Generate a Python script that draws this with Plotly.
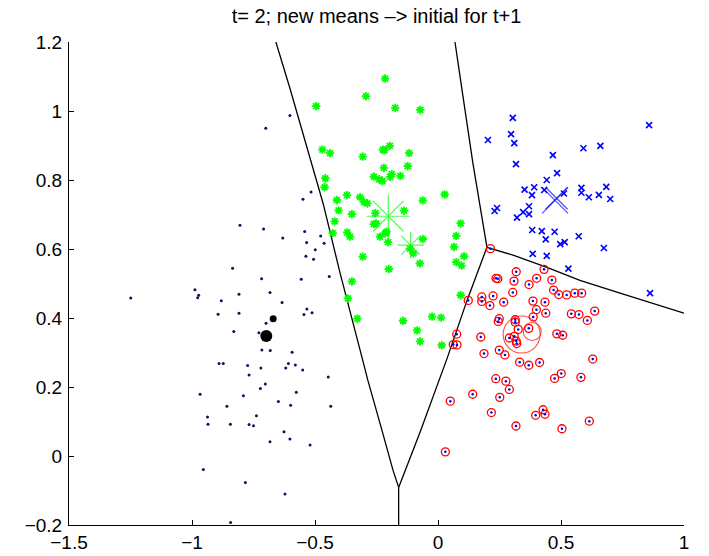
import plotly.graph_objects as go

# ---------------- data ----------------
black_x = [-0.602, -0.700, -0.549, -0.516, -0.805, -0.709, -0.631, -0.542, -0.477, -0.534,
           -0.463, -0.499, -0.537, -0.506, -0.835, -0.717, -0.556, -0.442, -0.988, -1.249,
           -0.977, -0.973, -0.809, -0.683, -0.881, -0.634, -0.533, -0.545, -0.512, -0.894,
           -0.809, -0.699, -0.728, -0.830, -0.716, -0.682, -0.593, -0.890, -0.873, -0.774,
           -0.720, -0.619, -0.608, -0.580, -0.550, -0.768, -0.446, -0.702, -0.722, -0.576,
           -0.967, -0.791, -0.649, -0.599, -0.858, -0.436, -0.937, -0.738, -0.935, -0.844,
           -0.768, -0.750, -0.626, -0.602, -0.683, -0.520, -0.954, -0.783, -0.622, -0.843]
black_y = [0.987, 0.950, 0.744, 0.765, 0.669, 0.658, 0.632, 0.651, 0.638, 0.619,
           0.617, 0.598, 0.579, 0.570, 0.544, 0.514, 0.512, 0.520, 0.482, 0.458,
           0.459, 0.466, 0.469, 0.474, 0.450, 0.445, 0.426, 0.410, 0.415, 0.411,
           0.414, 0.385, 0.357, 0.361, 0.307, 0.306, 0.301, 0.268, 0.268, 0.262,
           0.255, 0.255, 0.268, 0.264, 0.249, 0.235, 0.229, 0.209, 0.196, 0.185,
           0.179, 0.175, 0.158, 0.147, 0.144, 0.144, 0.113, 0.117, 0.092, 0.092,
           0.091, 0.088, 0.070, 0.049, 0.041, 0.032, -0.039, -0.077, -0.110, -0.193]

green_x = [-0.215, -0.293, -0.495, -0.174, -0.072, -0.470, -0.439, -0.224, -0.218, -0.196,
           -0.117, -0.306, -0.220, -0.123, -0.261, -0.239, -0.226, -0.195, -0.188, -0.153,
           -0.458, -0.461, -0.411, -0.370, -0.317, -0.301, -0.287, -0.062, 0.027, -0.404,
           -0.350, -0.255, -0.138, -0.420, -0.261, -0.252, -0.428, -0.369, -0.358, -0.236,
           -0.215, -0.209, -0.203, -0.062, 0.092, 0.074, 0.065, 0.106, 0.074, 0.096,
           -0.114, -0.100, -0.074, -0.306, -0.200, -0.350, -0.366, 0.092, -0.328, -0.142,
           -0.024, 0.013, -0.085, -0.073, 0.015]
green_y = [1.094, 1.043, 1.014, 1.009, 1.003, 0.888, 0.878, 0.888, 0.886, 0.899,
           0.878, 0.868, 0.835, 0.840, 0.810, 0.802, 0.797, 0.809, 0.817, 0.812,
           0.805, 0.779, 0.742, 0.756, 0.750, 0.736, 0.732, 0.741, 0.758, 0.712,
           0.701, 0.704, 0.711, 0.680, 0.672, 0.674, 0.646, 0.648, 0.636, 0.636,
           0.645, 0.650, 0.620, 0.629, 0.674, 0.638, 0.606, 0.579, 0.562, 0.552,
           0.601, 0.587, 0.558, 0.578, 0.542, 0.506, 0.457, 0.466, 0.398, 0.392,
           0.404, 0.401, 0.364, 0.332, 0.321]

blue_x = [0.304, 0.297, 0.203, 0.310, 0.858, 0.591, 0.660, 0.467, 0.317, 0.484,
          0.442, 0.352, 0.391, 0.432, 0.382, 0.512, 0.583, 0.583, 0.684, 0.654,
          0.613, 0.700, 0.240, 0.230, 0.370, 0.346, 0.370, 0.321, 0.383, 0.422,
          0.474, 0.438, 0.497, 0.515, 0.572, 0.674, 0.385, 0.442, 0.530, 0.862]
blue_y = [0.980, 0.933, 0.916, 0.907, 0.959, 0.892, 0.899, 0.872, 0.846, 0.820,
          0.800, 0.772, 0.779, 0.771, 0.756, 0.761, 0.777, 0.763, 0.780, 0.757,
          0.750, 0.745, 0.719, 0.710, 0.724, 0.707, 0.701, 0.691, 0.655, 0.652,
          0.650, 0.628, 0.614, 0.620, 0.637, 0.603, 0.586, 0.580, 0.543, 0.472]

red_x = [0.431, 0.318, 0.236, 0.243, 0.309, 0.401, 0.463, 0.370, 0.224, 0.304,
         0.470, 0.491, 0.523, 0.556, 0.584, 0.178, 0.178, 0.123, 0.267, 0.211,
         0.386, 0.435, 0.400, 0.438, 0.542, 0.573, 0.637, 0.607, 0.387, 0.249,
         0.245, 0.314, 0.314, 0.326, 0.369, 0.483, 0.507, 0.076, 0.174, 0.290,
         0.310, 0.318, 0.320, 0.062, 0.077, 0.249, 0.187, 0.272, 0.332, 0.369,
         0.413, 0.629, 0.235, 0.276, 0.290, 0.501, 0.474, 0.581, 0.141, 0.251,
         0.050, 0.217, 0.427, 0.397, 0.435, 0.615, 0.317, 0.504, 0.030, 0.213]
red_y = [0.541, 0.534, 0.515, 0.514, 0.507, 0.515, 0.510, 0.497, 0.464, 0.474,
         0.481, 0.468, 0.467, 0.472, 0.472, 0.461, 0.448, 0.451, 0.446, 0.436,
         0.449, 0.446, 0.424, 0.414, 0.412, 0.410, 0.420, 0.393, 0.403, 0.398,
         0.390, 0.395, 0.388, 0.367, 0.370, 0.354, 0.350, 0.353, 0.345, 0.342,
         0.347, 0.333, 0.326, 0.323, 0.322, 0.307, 0.297, 0.293, 0.272, 0.263,
         0.271, 0.281, 0.224, 0.217, 0.193, 0.239, 0.225, 0.228, 0.179, 0.170,
         0.159, 0.126, 0.134, 0.118, 0.121, 0.101, 0.087, 0.079, 0.012, 0.601]

# cluster means: [old, new]
black_mean_x = [-0.698, -0.670]
black_mean_y = [0.348, 0.398]
green_mean_x = [-0.202, -0.111]
green_mean_y = [0.695, 0.611]
blue_mean_x = [0.476, 0.482]
blue_mean_y = [0.741, 0.747]
red_mean_x = [0.340, 0.383]
red_mean_y = [0.352, 0.361]

# decision boundaries
bnd_a_x = [-0.659, -0.602, -0.467, -0.398, -0.309, -0.285, -0.228, -0.183, -0.160]
bnd_a_y = [1.200, 1.066, 0.732, 0.530, 0.286, 0.219, 0.075, -0.041, -0.091]
bnd_b_x = [-0.160, -0.073, 0.037, 0.118, 0.199]
bnd_b_y = [-0.091, 0.069, 0.283, 0.451, 0.605]
bnd_c_x = [0.199, 0.179, 0.142, 0.102, 0.069]
bnd_c_y = [0.605, 0.692, 0.848, 1.040, 1.200]
bnd_d_x = [0.199, 0.305, 0.443, 0.577, 0.740, 0.931, 1.000]
bnd_d_y = [0.605, 0.582, 0.547, 0.509, 0.472, 0.428, 0.414]
bnd_e_x = [-0.160, -0.160]
bnd_e_y = [-0.091, -0.200]

x_ticks = [-1.5, -1, -0.5, 0, 0.5, 1]
y_ticks = [-0.2, 0, 0.2, 0.4, 0.6, 0.8, 1.0, 1.2]
title_text = "t= 2; new means –> initial for t+1"

FONT = "Liberation Sans, Arial, Helvetica, sans-serif"

# ---------------- figure ----------------
fig = go.Figure()

for bx, by in [(bnd_a_x, bnd_a_y), (bnd_b_x, bnd_b_y), (bnd_c_x, bnd_c_y),
               (bnd_d_x, bnd_d_y), (bnd_e_x, bnd_e_y)]:
    fig.add_trace(go.Scatter(x=bx, y=by, mode="lines",
                             line=dict(color="black", width=1.3), hoverinfo="skip"))

fig.add_trace(go.Scatter(x=black_x, y=black_y, mode="markers",
                         marker=dict(symbol="circle", size=3, color="#101060",
                                     line=dict(width=0))))
fig.add_trace(go.Scatter(x=green_x, y=green_y, mode="markers",
                         marker=dict(symbol="asterisk-open", size=7, color="#00ff00",
                                     line=dict(color="#00ff00", width=1.8))))
fig.add_trace(go.Scatter(x=blue_x, y=blue_y, mode="markers",
                         marker=dict(symbol="x-thin-open", size=6, color="#0000ff",
                                     line=dict(color="#0000ff", width=1.6))))
fig.add_trace(go.Scatter(x=red_x, y=red_y, mode="markers",
                         marker=dict(symbol="circle-open", size=8, color="#ff0000",
                                     line=dict(color="#ff0000", width=1.3))))
fig.add_trace(go.Scatter(x=red_x, y=red_y, mode="markers",
                         marker=dict(symbol="circle", size=2.5, color="#0000ff",
                                     line=dict(width=0))))

# means
fig.add_trace(go.Scatter(x=black_mean_x, y=black_mean_y, mode="markers",
                         marker=dict(symbol="circle", size=[12, 7], color="#000000",
                                     line=dict(width=0), opacity=1)))
fig.add_trace(go.Scatter(x=green_mean_x, y=green_mean_y, mode="markers",
                         marker=dict(symbol="asterisk-open", size=[36, 22], color="#00ff00",
                                     line=dict(color="#00ff00", width=1.2))))
fig.add_trace(go.Scatter(x=blue_mean_x, y=blue_mean_y, mode="markers",
                         marker=dict(symbol="x-thin-open", size=[26, 22], color="#0000ff",
                                     line=dict(color="#0000ff", width=1.2))))
fig.add_trace(go.Scatter(x=red_mean_x, y=red_mean_y, mode="markers",
                         marker=dict(symbol="circle-open", size=[37, 18], color="#ff0000",
                                     line=dict(color="#ff0000", width=1.1))))

axis_common = dict(showgrid=False, zeroline=False, showline=True, linecolor="black",
                   linewidth=1, ticks="inside", ticklen=5, tickcolor="black",
                   tickfont=dict(family=FONT, size=19, color="black"),
                   mirror=False, automargin=False)

fig.update_layout(
    width=709, height=556,
    margin=dict(l=69, r=25, t=42, b=31, autoexpand=False),
    paper_bgcolor="white", plot_bgcolor="white",
    showlegend=False,
    hovermode=False,
    title=dict(text=title_text, x=0.5, xref="paper", xanchor="center",
               y=1 - 16 / 556, yref="container", yanchor="middle",
               font=dict(family=FONT, size=20, color="black")),
    xaxis=dict(range=[-1.5, 1], tickvals=x_ticks, **axis_common),
    yaxis=dict(range=[-0.2, 1.2], tickvals=y_ticks, ticklabelstandoff=2, **axis_common),
)

# remove the default 8px page margin so the figure sits at the window's corner
fig.write_html("out.html",
               config={"displayModeBar": False, "staticPlot": True},
               post_script="document.body.style.margin='0';document.body.style.overflow='hidden';")
